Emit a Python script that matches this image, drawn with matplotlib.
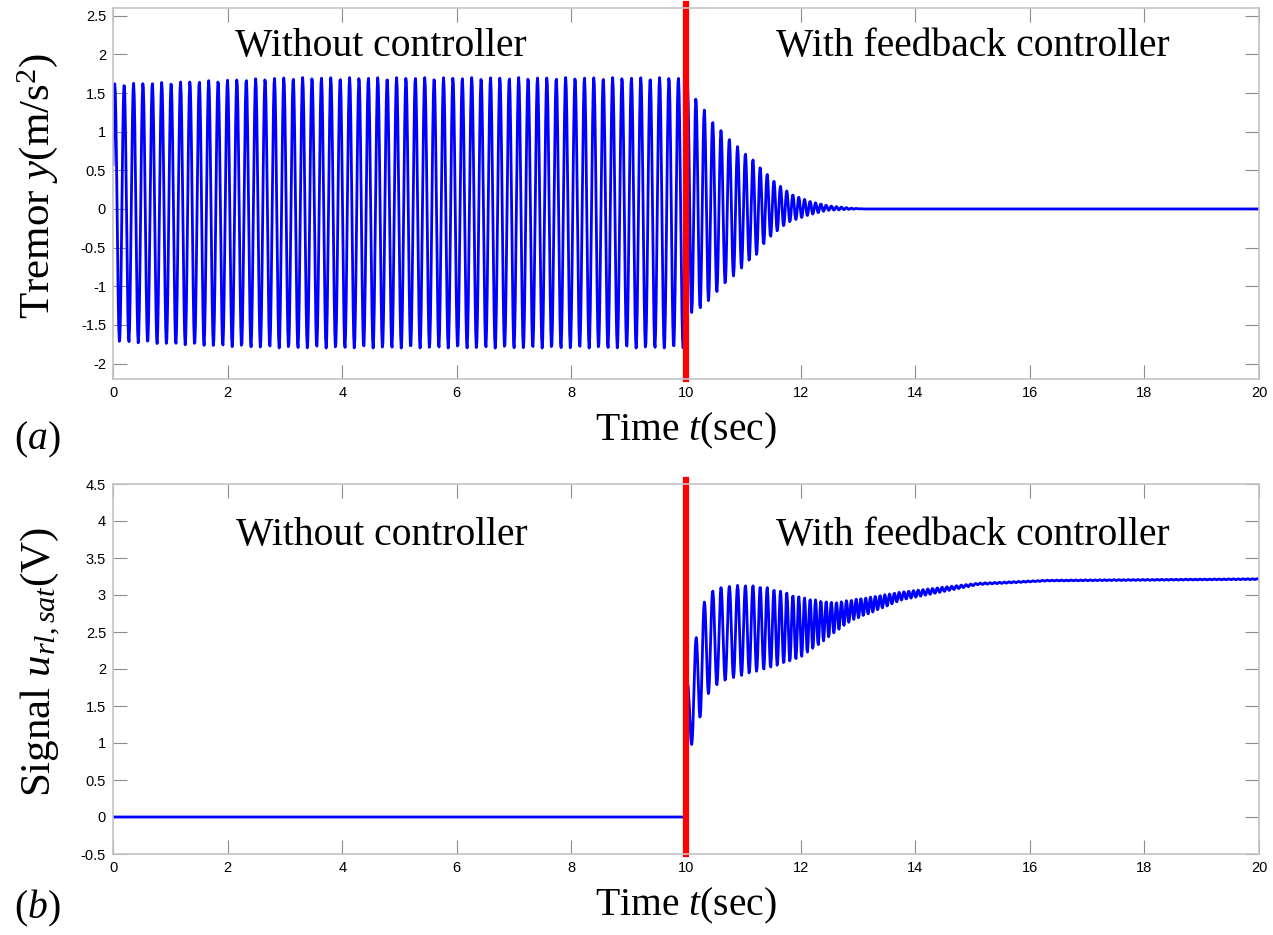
import numpy as np
import matplotlib.pyplot as plt
from matplotlib.ticker import FuncFormatter

plt.rcParams['font.family'] = ['Liberation Sans', 'DejaVu Sans']
plt.rcParams['mathtext.fontset'] = 'custom'
plt.rcParams['mathtext.rm'] = 'Liberation Serif'
plt.rcParams['mathtext.it'] = 'Liberation Serif:italic'

# controller switched on at t = 10 s
t_switch = 10.0

# tremor y: envelope
t_up_a = [0, 1, 2, 3, 5, 8, 9.99, 10.05, 10.12, 10.26, 10.41, 10.55, 10.70, 10.85,
          11.0, 11.15, 11.33, 11.5, 11.7, 11.9, 12.2, 12.5, 12.9, 13.1, 20]
up_a = [1.62, 1.64, 1.67, 1.70, 1.70, 1.70, 1.70, 1.52, 1.49, 1.34, 1.19, 1.06, 0.95, 0.84,
        0.74, 0.65, 0.52, 0.39, 0.26, 0.17, 0.09, 0.04, 0.01, 0.0, 0.0]
t_lo_a = [0, 1, 2, 3, 5, 8, 9.99, 10.05, 10.2, 10.35, 10.5, 10.65, 10.8, 10.95,
          11.1, 11.25, 11.4, 11.6, 11.8, 12.1, 12.45, 13.0, 20]
lo_a = [-1.72, -1.75, -1.78, -1.80, -1.80, -1.80, -1.80, -1.35, -1.32, -1.23, -1.10, -0.99, -0.89, -0.78,
        -0.67, -0.58, -0.41, -0.28, -0.17, -0.09, -0.02, 0.0, 0.0]

# signal u_rl,sat: envelope
t_up_b = [0, 9.99, 10.0, 10.03, 10.09, 10.24, 10.38, 10.53, 10.82, 11.1, 11.4, 11.7,
          12.0, 12.3, 12.6, 13.2, 13.75, 15.1, 16.3, 20]
up_b = [0, 0, 0, 1.8, 2.0, 2.75, 3.02, 3.09, 3.13, 3.13, 3.11, 3.04,
        2.97, 2.93, 2.90, 2.97, 3.04, 3.16, 3.20, 3.22]
t_lo_b = [0, 9.99, 10.0, 10.02, 10.06, 10.18, 10.33, 10.47, 10.76, 11.05, 11.4, 11.7, 12.0,
          12.3, 12.6, 12.9, 13.2, 13.75, 15.1, 16.3, 20]
lo_b = [0, 0, 0, 0.3, 0.9, 1.14, 1.59, 1.76, 1.87, 1.93, 2.0, 2.07, 2.16,
        2.32, 2.50, 2.66, 2.75, 2.93, 3.14, 3.19, 3.21]

# oscillation frequency (Hz), counted from the peak spacing in the plot
t_freq = [0, 9.99, 10.0, 10.8, 11.5, 12.2, 13.0, 20]
freq = [6.1, 6.1, 6.8, 6.9, 8.5, 10.5, 12.0, 12.0]

dt = 0.01
t = np.arange(0, 20 + dt, dt)
f = np.interp(t, t_freq, freq)
phase = np.cumsum(2 * np.pi * f * dt)
carrier = np.sin(phase)

ua = np.interp(t, t_up_a, up_a)
la = np.interp(t, t_lo_a, lo_a)
y = (ua + la) / 2 + (ua - la) / 2 * carrier

ub = np.interp(t, t_up_b, up_b)
lb = np.interp(t, t_lo_b, lo_b)
u = (ub + lb) / 2 + (ub - lb) / 2 * carrier

fig = plt.figure(figsize=(12.73, 9.35), dpi=100)
ax1 = fig.add_axes([113 / 1273, 1 - 379 / 935, 1146 / 1273, 371 / 935])
ax2 = fig.add_axes([113 / 1273, 1 - 854 / 935, 1146 / 1273, 370 / 935])

fmt = FuncFormatter(lambda v, p: '%g' % v)
serif = 'Liberation Serif'
big = 28.5

for ax in (ax1, ax2):
    ax.set_xlim(0, 20)
    ax.set_xticks(np.arange(0, 21, 2))
    ax.xaxis.set_major_formatter(fmt)
    ax.yaxis.set_major_formatter(fmt)
    ax.tick_params(direction='in', length=10, width=0.8, color='#8c8c8c',
                   labelsize=10.5, top=True, right=True, pad=5)
    for s in ax.spines.values():
        s.set_color('#c4c4c4')
        s.set_linewidth(1.2)
    ax.set_xlabel(r'Time $\mathit{t}$(sec)', family=serif, fontsize=big, labelpad=8)

ax1.plot(t, y, color='#0000ff', lw=2)
ax1.set_ylim(-2.2, 2.6)
ax1.set_yticks(np.arange(-2, 2.51, 0.5))
ax1.axvline(t_switch, ymin=0, ymax=1.01, color='#ff0000', lw=4.5, clip_on=False)
ax1.set_ylabel(r'Tremor $\mathit{y}$(m/s$^2$)', family=serif, fontsize=31)
ax1.yaxis.set_label_coords(-0.046, 0.52)
ax1.text(4.68, 2.1, 'Without controller', family=serif, fontsize=big, ha='center', va='center')
ax1.text(15.0, 2.1, 'With feedback controller', family=serif, fontsize=big, ha='center', va='center')

ax2.plot(t, u, color='#0000ff', lw=2)
ax2.set_ylim(-0.5, 4.5)
ax2.set_yticks(np.arange(-0.5, 4.51, 0.5))
ax2.axvline(t_switch, ymin=0, ymax=1.01, color='#ff0000', lw=4.5, clip_on=False)
ax2.set_ylabel(r'Signal $\mathit{u}_{\mathit{rl,sat}}$(V)', family=serif, fontsize=31)
ax2.yaxis.set_label_coords(-0.044, 0.52)
ax2.text(4.7, 3.8, 'Without controller', family=serif, fontsize=big, ha='center', va='center')
ax2.text(15.0, 3.8, 'With feedback controller', family=serif, fontsize=big, ha='center', va='center')

fig.text(37 / 1273, 1 - 440 / 935, r'($\mathit{a}$)', family=serif, fontsize=big, ha='center', va='center')
fig.text(37 / 1273, 1 - 908 / 935, r'($\mathit{b}$)', family=serif, fontsize=big, ha='center', va='center')

fig.savefig('out.png', dpi=100)
